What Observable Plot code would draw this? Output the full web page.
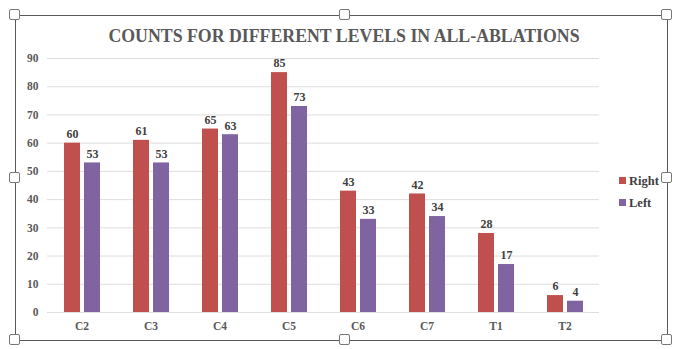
<!DOCTYPE html>
<html>
<head>
<meta charset="utf-8">
<script src="https://cdn.jsdelivr.net/npm/d3@7"></script>
<script src="https://cdn.jsdelivr.net/npm/@observablehq/plot@0.6"></script>
<style>
  html, body { margin: 0; padding: 0; background: #fff; }
  #wrap { position: relative; width: 673px; height: 349px; overflow: hidden; font-family: "Liberation Serif", "Times New Roman", serif; }
  #wrap svg { position: absolute; left: 0; top: 0; }
  .title { position: absolute; left: 0; width: 688px; top: 26px; text-align: center; font-weight: bold; font-size: 17.8px; color: #595959; white-space: nowrap; }
  .leg { position: absolute; left: 619px; font-weight: bold; font-size: 12.5px; color: #404040; white-space: nowrap; }
  .leg span { display: inline-block; width: 7px; height: 7px; margin-right: 3px; vertical-align: 1px; }
  .ln { position: absolute; background: #595959; }
  .h { position: absolute; width: 11px; height: 11px; background: #fff; border: 1px solid #777; border-radius: 2px; box-sizing: border-box; }
</style>
</head>
<body>
<div id="wrap"></div>
<script>
const levels = ["C2", "C3", "C4", "C5", "C6", "C7", "T1", "T2"];
const series = ["Right", "Left"];
const rightValues = [60, 61, 65, 85, 43, 42, 28, 6];
const leftValues = [53, 53, 63, 73, 33, 34, 17, 4];
const yTicks = [0, 10, 20, 30, 40, 50, 60, 70, 80, 90];
const colors = ["#C0504D", "#8064A2"];
const titleText = "COUNTS FOR DIFFERENT LEVELS IN ALL-ABLATIONS";

const rows = [];
levels.forEach((lv, i) => {
  rows.push({level: lv, side: "Right", value: rightValues[i]});
  rows.push({level: lv, side: "Left", value: leftValues[i]});
});

const chart = Plot.plot({
  width: 673,
  height: 349,
  marginLeft: 46,
  marginRight: 73,
  marginTop: 58,
  marginBottom: 37,
  style: {fontFamily: "'Liberation Serif', 'Times New Roman', serif", fontWeight: "bold", fontSize: "11.5px", color: "#595959", background: "transparent"},
  facet: {data: rows, x: "level"},
  fx: {domain: levels, padding: 0, axis: "bottom", tickSize: 0, tickPadding: 9, label: null},
  x: {domain: series, paddingInner: 0.21, paddingOuter: 0.81, axis: null},
  y: {domain: [0, 90], ticks: yTicks, tickSize: 0, tickPadding: 9, label: null},
  color: {domain: series, range: colors},
  marks: [
    Plot.ruleY(yTicks, {stroke: "#dedede", strokeWidth: 1}),
    Plot.barY(rows, {x: "side", y: "value", fill: "side"}),
    Plot.text(rows, {x: "side", y: "value", text: d => String(d.value), dy: -9, fill: "#404040", fontWeight: "bold", fontSize: 12})
  ]
});

const wrap = document.getElementById("wrap");
wrap.appendChild(chart);

const t = document.createElement("div");
t.className = "title";
t.textContent = titleText;
wrap.appendChild(t);

series.forEach((s, i) => {
  const d = document.createElement("div");
  d.className = "leg";
  d.style.top = (174 + i * 22) + "px";
  const sw = document.createElement("span");
  sw.style.background = colors[i];
  d.appendChild(sw);
  d.appendChild(document.createTextNode(s));
  wrap.appendChild(d);
});

// frame lines
const lines = [
  {l: 15, t: 15, w: 653, h: 1},
  {l: 15, t: 340, w: 653, h: 1},
  {l: 15, t: 15, w: 1, h: 326},
  {l: 667, t: 15, w: 1, h: 326}
];
lines.forEach(o => {
  const d = document.createElement("div");
  d.className = "ln";
  d.style.left = o.l + "px"; d.style.top = o.t + "px";
  d.style.width = o.w + "px"; d.style.height = o.h + "px";
  wrap.appendChild(d);
});
const handles = [[15,15],[345,15],[667,15],[15,178],[667,178],[15,340],[345,340],[667,340]];
handles.forEach(([x, y]) => {
  const d = document.createElement("div");
  d.className = "h";
  d.style.left = (x - 6) + "px"; d.style.top = (y - 6) + "px";
  wrap.appendChild(d);
});
</script>
</body>
</html>
